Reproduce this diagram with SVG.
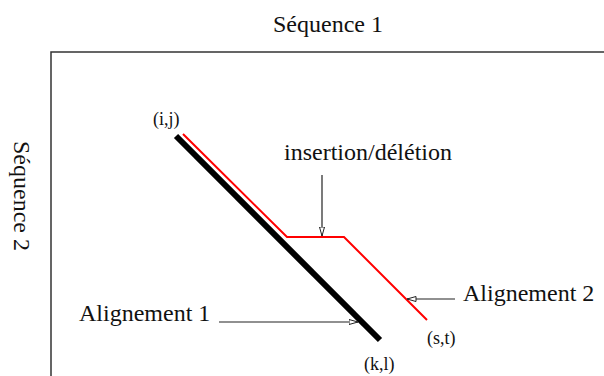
<svg xmlns="http://www.w3.org/2000/svg" width="604" height="376" viewBox="0 0 604 376">
<style>
  text { font-family: "Liberation Serif", "Times New Roman", serif; fill: #111; }
  .big { font-size: 24px; }
  .small { font-size: 18px; }
  .conn { stroke: #222; stroke-width: 1.2; fill: none; marker-end: url(#open); }
</style>
<defs>
  <marker id="open" viewBox="0 0 10 6" refX="9.5" refY="3" markerWidth="10" markerHeight="6" markerUnits="userSpaceOnUse" orient="auto">
    <path d="M0.5,0.5 L9.5,3 L0.5,5.5 Z" fill="#fff" stroke="#222" stroke-width="1"/>
  </marker>
</defs>
<rect width="604" height="376" fill="#fff"/>
<g id="frame">
  <path d="M51,376 V52 H604" fill="none" stroke="#333" stroke-width="1.5"/>
</g>
<g id="axis-labels">
  <text class="big" x="328" y="32" text-anchor="middle">Séquence 1</text>
  <text class="big" transform="translate(14,196) rotate(90)" text-anchor="middle">Séquence 2</text>
</g>
<g id="alignement1">
  <line x1="176" y1="136" x2="380" y2="340" stroke="#000" stroke-width="6"/>
  <text class="small" x="153" y="125">(i,j)</text>
  <text class="small" x="364" y="370">(k,l)</text>
</g>
<g id="alignement2">
  <polyline points="183,134 287,237 344,237 427,320" fill="none" stroke="#f00" stroke-width="2"/>
  <text class="small" x="427" y="344">(s,t)</text>
</g>
<g id="label-insertion">
  <text class="big" x="368" y="160" text-anchor="middle">insertion/délétion</text>
</g>
<g id="label-alignement1">
  <text class="big" x="79" y="321">Alignement 1</text>
</g>
<g id="label-alignement2">
  <text class="big" x="463" y="301">Alignement 2</text>
</g>
<g id="connectors">
  <line class="conn" x1="322" y1="175" x2="322" y2="236"/>
  <line class="conn" x1="219" y1="322" x2="358" y2="322"/>
  <line class="conn" x1="455" y1="299" x2="407" y2="299"/>
</g>
</svg>
